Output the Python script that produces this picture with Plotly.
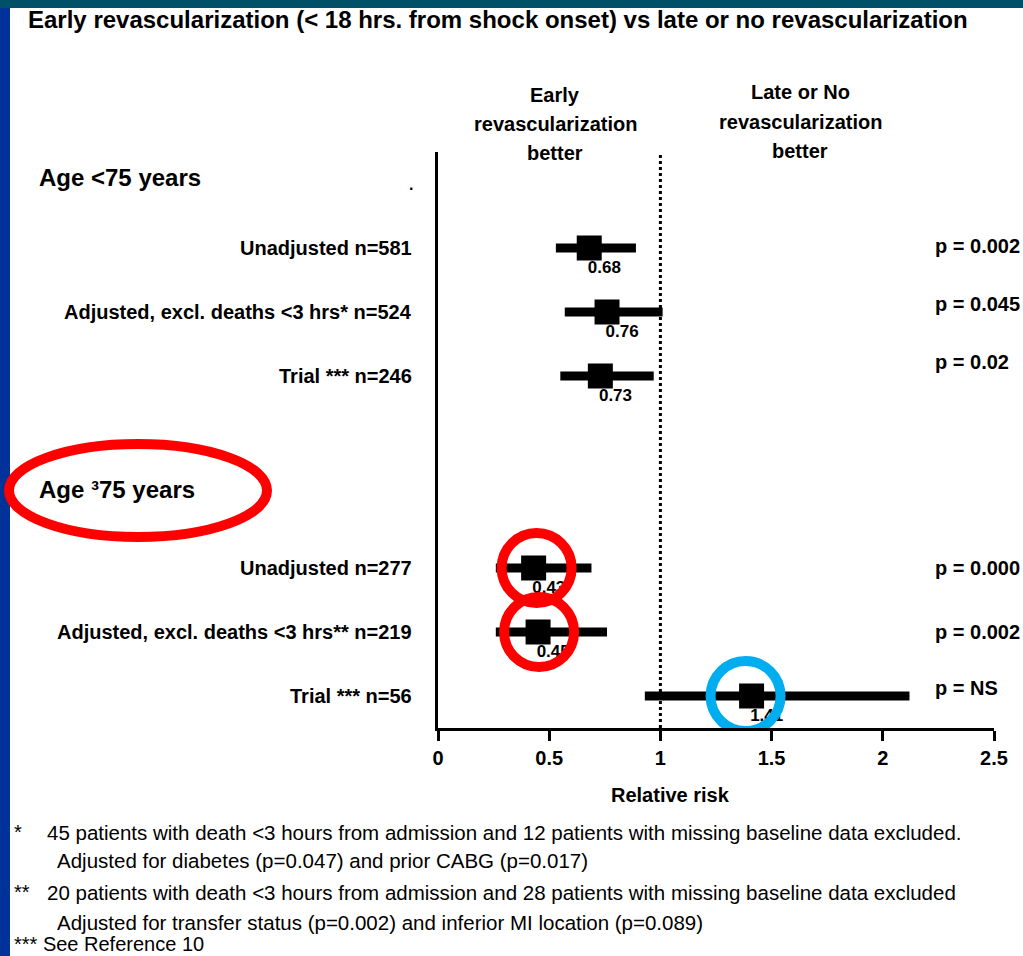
import plotly.graph_objects as go

# ---------------- data ----------------
title_text = "Early revascularization (< 18 hrs. from shock onset) vs late or no revascularization"
group_titles = ["Age <75 years", "Age \u00b375 years"]
row_labels = [
    "Unadjusted n=581",
    "Adjusted, excl. deaths <3 hrs* n=524",
    "Trial *** n=246",
    "Unadjusted n=277",
    "Adjusted, excl. deaths <3 hrs** n=219",
    "Trial *** n=56",
]
row_group = [0, 0, 0, 1, 1, 1]
rel_risk = [0.68, 0.76, 0.73, 0.43, 0.45, 1.41]
ci_low = [0.53, 0.57, 0.55, 0.26, 0.26, 0.93]
ci_high = [0.89, 1.01, 0.97, 0.69, 0.76, 2.12]
rr_labels = ["0.68", "0.76", "0.73", "0.43", "0.45", "1.41"]
p_values = ["p = 0.002", "p = 0.045", "p = 0.02", "p = 0.000", "p = 0.002", "p = NS"]
x_ticks = [0, 0.5, 1, 1.5, 2, 2.5]
x_tick_labels = ["0", "0.5", "1", "1.5", "2", "2.5"]
left_header = ["Early", "revascularization", "better"]
right_header = ["Late or No", "revascularization", "better"]
footnotes = [
    ("*", "45 patients with death <3 hours from admission and 12 patients with missing baseline data excluded."),
    ("", "Adjusted for diabetes (p=0.047) and prior CABG (p=0.017)"),
    ("**", "20 patients with death <3 hours from admission and 28 patients with missing baseline data excluded"),
    ("", "Adjusted for transfer status (p=0.002) and inferior MI location (p=0.089)"),
    ("*** See Reference 10", ""),
]
# rows highlighted in the reference (index, colour)
highlights = [(3, "#FF0000"), (4, "#FF0000"), (5, "#00AEEF")]

# ---------------- layout geometry ----------------
W, H = 1023, 956
PL, PR, PT, PB = 438, 994, 152, 728  # plot area in pixels
Y_TOP = 9.0
CIRCLE_DX = {3: 3, 4: 1, 5: -6}  # hand-drawn circle offsets (pixels)


def px_x(p):
    return (p - PL) / (PR - PL)


def px_y(p):
    return (PB - p) / (PB - PT)


# y positions of rows, computed from order + group gaps
row_y = [Y_TOP - 1.5 - i - 2 * g for i, g in enumerate(row_group)]
group_y = []
for g in range(len(group_titles)):
    first = row_y[row_group.index(g)]
    group_y.append(first + (1.1 if g == 0 else 1.23))

BOLD = "Liberation Sans, Arial, sans-serif"
fig = go.Figure()

# CI bars + square markers
fig.add_trace(go.Scatter(
    x=rel_risk, y=row_y, mode="markers",
    marker=dict(symbol="square", size=25, color="black", line=dict(width=0)),
    error_x=dict(type="data", symmetric=False,
                 array=[h - r for h, r in zip(ci_high, rel_risk)],
                 arrayminus=[r - l for r, l in zip(rel_risk, ci_low)],
                 color="black", thickness=9, width=0),
    showlegend=False, hoverinfo="skip", cliponaxis=False,
))

# value labels under markers (as trace text so highlight circles cover them)
fig.add_trace(go.Scatter(
    x=[r + 0.068 for r in rel_risk], y=[y - 0.33 for y in row_y],
    mode="text", text=rr_labels, textposition="middle center",
    textfont=dict(family=BOLD, size=17, color="black", weight="bold"),
    showlegend=False, hoverinfo="skip", cliponaxis=False,
))

shapes = []
# decorative bars of the slide
shapes.append(dict(type="rect", xref="paper", yref="paper",
                   x0=px_x(0), x1=px_x(W), y0=px_y(0), y1=px_y(8),
                   fillcolor="#005068", line=dict(width=0), layer="above"))
shapes.append(dict(type="rect", xref="paper", yref="paper",
                   x0=px_x(0), x1=px_x(10), y0=px_y(8), y1=px_y(H + 5),
                   fillcolor="#003399", line=dict(width=0), layer="above"))
# line of no effect
shapes.append(dict(type="line", xref="x", yref="y", x0=1, x1=1, y0=0, y1=Y_TOP,
                   line=dict(color="black", width=3, dash="dot"), layer="below"))
# highlight circles
for idx, col in highlights:
    dx = CIRCLE_DX.get(idx, 0)
    shapes.append(dict(type="circle", xref="x", yref="y",
                       xsizemode="pixel", ysizemode="pixel",
                       xanchor=rel_risk[idx], yanchor=row_y[idx],
                       x0=dx - 35, x1=dx + 35, y0=-35, y1=35,
                       line=dict(color=col, width=10), layer="above"))
# ellipse around the second group title
shapes.append(dict(type="circle", xref="paper", yref="paper",
                   x0=px_x(9), x1=px_x(267), y0=px_y(444), y1=px_y(537),
                   line=dict(color="#FF0000", width=10), layer="above"))

ann = []
ann.append(dict(text=title_text, xref="paper", yref="paper", x=px_x(26), y=px_y(20),
                xanchor="left", yanchor="middle", showarrow=False,
                font=dict(family=BOLD, size=24, color="black", weight="bold")))
for g, t in enumerate(group_titles):
    ann.append(dict(text=t, xref="paper", yref="y", x=px_x(37), y=group_y[g],
                    xanchor="left", yanchor="middle", showarrow=False,
                    font=dict(family=BOLD, size=24, color="black", weight="bold")))
ann.append(dict(text=".", xref="paper", yref="paper", x=px_x(411), y=px_y(184),
                xanchor="center", yanchor="middle", showarrow=False,
                font=dict(family=BOLD, size=16, color="black", weight="bold")))
for lab, y in zip(row_labels, row_y):
    ann.append(dict(text=lab, xref="paper", yref="y", x=px_x(414), y=y,
                    xanchor="right", yanchor="middle", showarrow=False,
                    font=dict(family=BOLD, size=20, color="black", weight="bold")))
p_shift = [2, 8, 14, 0, 0, 8]
for pv, y, s in zip(p_values, row_y, p_shift):
    ann.append(dict(text=pv, xref="paper", yref="y", x=px_x(933), y=y, yshift=s,
                    xanchor="left", yanchor="middle", showarrow=False,
                    font=dict(family=BOLD, size=20, color="black", weight="bold")))
for t, py in zip(left_header, [95, 124, 153]):
    ann.append(dict(text=t, xref="paper", yref="paper", x=px_x(555), y=px_y(py),
                    xanchor="center", yanchor="middle", showarrow=False,
                    font=dict(family=BOLD, size=20, color="black", weight="bold")))
for t, py in zip(right_header, [92, 122, 151]):
    ann.append(dict(text=t, xref="paper", yref="paper", x=px_x(800), y=px_y(py),
                    xanchor="center", yanchor="middle", showarrow=False,
                    font=dict(family=BOLD, size=20, color="black", weight="bold")))
ann.append(dict(text="Relative risk", xref="paper", yref="paper", x=px_x(670), y=px_y(795),
                xanchor="center", yanchor="middle", showarrow=False,
                font=dict(family=BOLD, size=20, color="black", weight="bold")))
foot_y = [832, 860, 892, 922, 944]
for (mark, txt), py in zip(footnotes, foot_y):
    if mark:
        ann.append(dict(text=mark, xref="paper", yref="paper", x=px_x(12), y=px_y(py),
                        xanchor="left", yanchor="middle", showarrow=False,
                        font=dict(family=BOLD, size=20, color="black")))
    if txt:
        x0 = 45 if mark else 55
        ann.append(dict(text=txt, xref="paper", yref="paper", x=px_x(x0), y=px_y(py),
                        xanchor="left", yanchor="middle", showarrow=False,
                        font=dict(family=BOLD, size=20.5, color="black")))

fig.update_layout(
    width=W, height=H,
    margin=dict(l=PL, r=W - PR, t=PT, b=H - PB, pad=0),
    paper_bgcolor="white", plot_bgcolor="white",
    showlegend=False,
    shapes=shapes, annotations=ann,
    xaxis=dict(range=[0, 2.5], tickvals=x_ticks, ticktext=x_tick_labels,
               showgrid=False, zeroline=False, showline=True, linecolor="black",
               linewidth=3, ticks="outside", ticklen=10, tickwidth=3, tickcolor="black",
               tickfont=dict(family=BOLD, size=20, color="black", weight="bold"),
               fixedrange=True),
    yaxis=dict(range=[0, Y_TOP], showgrid=False, zeroline=False, showline=True,
               linecolor="black", linewidth=3, showticklabels=False, ticks="",
               fixedrange=True),
)

fig.write_html(
    "out.html",
    config={"displayModeBar": False},
    post_script="document.body.style.margin='0';document.body.style.overflow='hidden';",
)
